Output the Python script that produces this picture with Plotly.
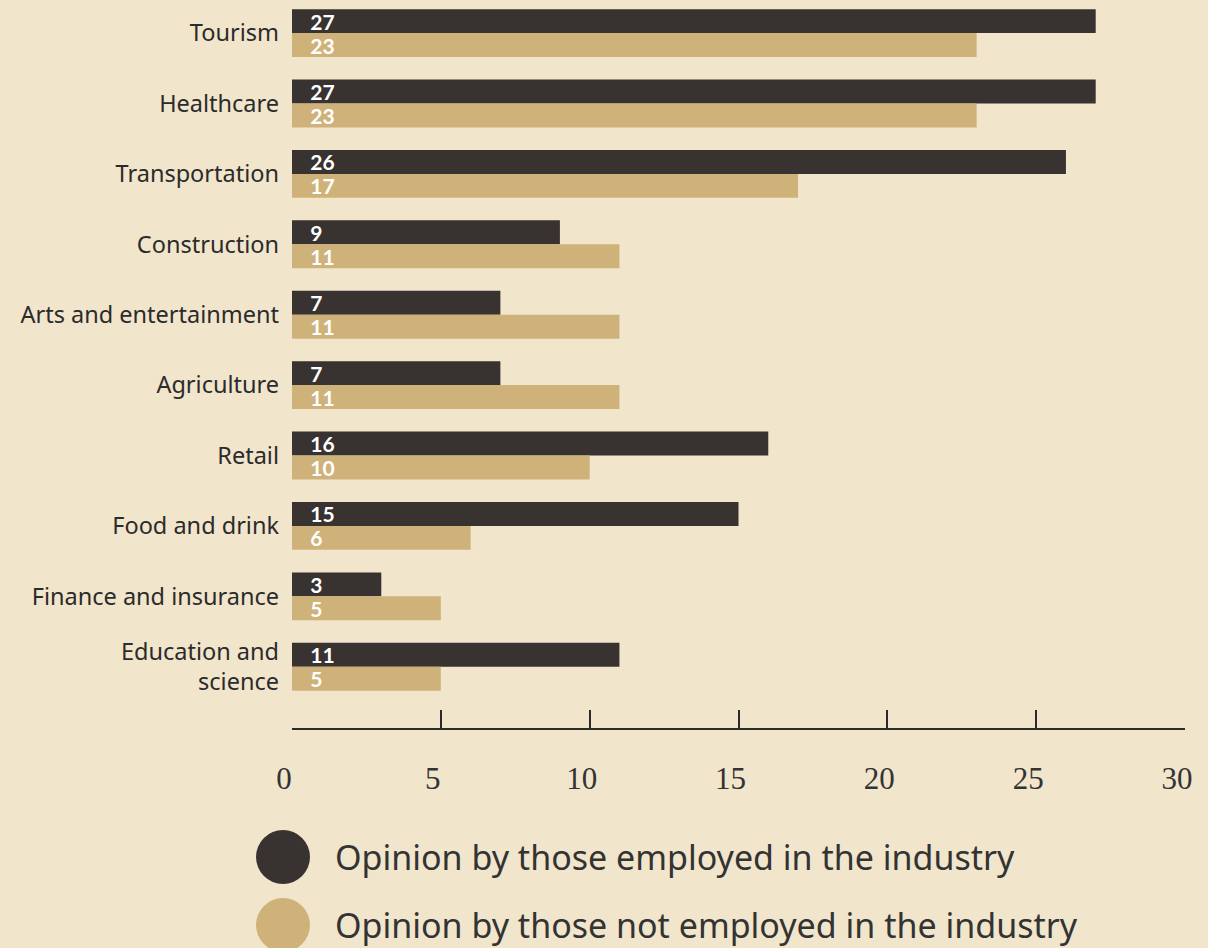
import plotly.graph_objects as go

# Industries, top to bottom
industries = [
    "Tourism", "Healthcare", "Transportation", "Construction",
    "Arts and entertainment", "Agriculture", "Retail", "Food and drink",
    "Finance and insurance", "Education and<br>science",
]
employed = [27, 27, 26, 9, 7, 7, 16, 15, 3, 11]
not_employed = [23, 23, 17, 11, 11, 11, 10, 6, 5, 5]

series_names = [
    "Opinion by those employed in the industry",
    "Opinion by those not employed in the industry",
]
x_ticks = [0, 5, 10, 15, 20, 25, 30]

BG = "#F1E5CC"
DARK = "#383230"
TAN = "#CFB27A"
INK = "#2B2B2B"

fig = go.Figure()
for name, vals, col in [(series_names[0], employed, DARK),
                        (series_names[1], not_employed, TAN)]:
    fig.add_trace(go.Bar(
        y=industries, x=vals, orientation="h", name=name,
        marker=dict(color=col, line=dict(width=0)),
        text=vals,
        texttemplate="\u00a0\u00a0\u00a0%{x}",
        textposition="inside", insidetextanchor="start",
        constraintext="none",
        textfont=dict(family="Lato", size=21, color="white", weight="bold"),
        hoverinfo="skip",
    ))

fig.update_layout(
    width=1208, height=948,
    paper_bgcolor=BG, plot_bgcolor=BG,
    margin=dict(l=292, r=23, t=0, b=220),
    barmode="group", bargap=0.32, bargroupgap=0,
    showlegend=False,
)

fig.update_xaxes(
    range=[0, 30], tickvals=x_ticks, ticktext=[str(v) for v in x_ticks],
    showgrid=False, zeroline=False,
    showline=True, linecolor=INK, linewidth=2,
    ticks="inside", ticklen=18, tickwidth=1.5, tickcolor=INK,
    ticklabelstandoff=22, ticklabelshift=-8,
    tickfont=dict(family="Liberation Serif", size=31, color="#333333"),
)
fig.update_yaxes(
    range=[9.87, -0.47], showgrid=False, zeroline=False, showline=False,
    ticks="", ticklabelstandoff=12,
    tickfont=dict(family="Noto Sans", size=23.5, color=INK),
)

# Legend drawn as large dots with text beside them
for i, (name, col) in enumerate(zip(series_names, [DARK, TAN])):
    yc = 857 + i * 68
    ypaper = (728 - yc) / 728
    xpaper = (283 - 292) / 893
    fig.add_shape(type="circle", xref="paper", yref="paper",
                  xsizemode="pixel", ysizemode="pixel",
                  xanchor=xpaper, yanchor=ypaper,
                  x0=-27, x1=27, y0=-27, y1=27,
                  fillcolor=col, line=dict(width=0))
    fig.add_annotation(xref="paper", yref="paper",
                       x=(333 - 292) / 893, y=ypaper,
                       xanchor="left", yanchor="middle", showarrow=False,
                       text=name,
                       font=dict(family="Noto Sans", size=34, color="#333333"))

fig.write_html("out.html")
